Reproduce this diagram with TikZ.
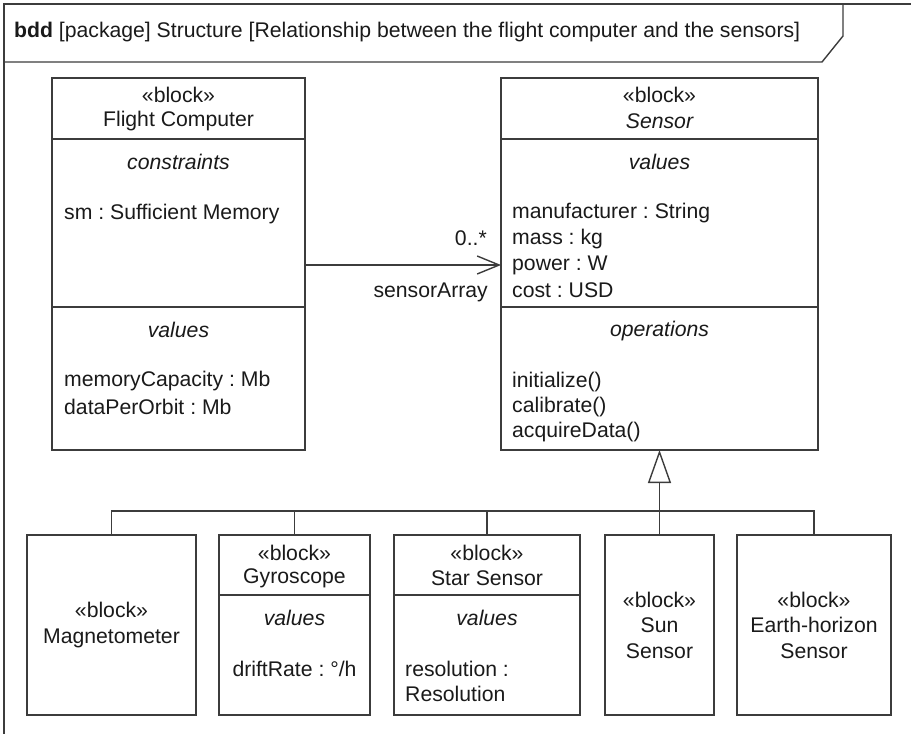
\documentclass[tikz,border=0pt]{standalone}
\usepackage{fontspec}
\setmainfont{Liberation Sans}
\usetikzlibrary{arrows.meta}
\definecolor{ln}{HTML}{3C3C3C}
\definecolor{tx}{HTML}{1A1A1A}
\frenchspacing
\begin{document}
\begin{tikzpicture}[x=1pt,y=-1pt,
  blk/.style={draw=ln,line width=1.4pt,fill=white,inner sep=0pt,outer sep=0pt,anchor=north west},
  lbl/.style={inner sep=0pt,text=tx,font=\fontsize{21.2}{25.5}\selectfont\frenchspacing},
  lft/.style={lbl,anchor=west},
  rgt/.style={lbl,anchor=east},
  ln/.style={draw=ln,line width=1.4pt}]
\useasboundingbox (0,0) rectangle (911,734);
% frame
\draw[ln] (4,734) -- (4,4) -- (911,4);
\draw[ln] (4,62) -- (822,62) -- (843,36) -- (843,4);
\node[lft] (title) at (14,32) {\textbf{bdd} [package] Structure [Relationship between the flight computer and the sensors]};

% Flight Computer
\node[blk,minimum width=253pt,minimum height=372pt] (fc) at (52,78) {};
\draw[ln] (fc.west |- 0,139) -- (fc.east |- 0,139);
\draw[ln] (fc.west |- 0,307) -- (fc.east |- 0,307);
\node[lbl] (fcst) at (178.5,95) {«block»};
\node[lbl] (fcnm) at (178.5,121) {Flight Computer};
\node[lbl] (fccs) at (178.5,162) {\itshape constraints};
\node[lft] (fcsm) at (64,214) {sm : Sufficient Memory};
\node[lbl] (fcvl) at (178.5,330) {\itshape values};
\node[lft] (fcmc) at (64,381) {memoryCapacity : Mb};
\node[lft] (fcdp) at (64,407) {dataPerOrbit : Mb};

% Sensor
\node[blk,minimum width=317pt,minimum height=372pt] (sensor) at (501,78) {};
\draw[ln] (sensor.west |- 0,139) -- (sensor.east |- 0,139);
\draw[ln] (sensor.west |- 0,307) -- (sensor.east |- 0,307);
\node[lbl] (snst) at (659.5,95) {«block»};
\node[lbl] (snnm) at (659.5,121) {\itshape Sensor};
\node[lbl] (snvl) at (659.5,162) {\itshape values};
\node[lft] (snma) at (512,213) {manufacturer : String};
\node[lft] (snms) at (512,239) {mass : kg};
\node[lft] (snpw) at (512,265) {power : W};
\node[lft] (snco) at (512,290) {cost : USD};
\node[lbl] (snop) at (659.5,331) {\itshape operations};
\node[lft] (snin) at (512,382) {initialize()};
\node[lft] (snca) at (512,407) {calibrate()};
\node[lft] (snaq) at (512,432) {acquireData()};

% association
\coordinate (assocA) at (305,265);
\draw[ln,-{Straight Barb[length=22pt,width=18pt,line width=1.4pt]}] (assocA) -- (sensor.west |- assocA);
\node[rgt] (mult) at (487,238) {0..*};
\node[rgt] (role) at (488,292) {sensorArray};

% sub blocks
\node[blk,minimum width=169pt,minimum height=180pt] (mag) at (27,535) {};
\node[lbl,align=center] (magt) at (111.5,625) {«block»\\Magnetometer};

\node[blk,minimum width=151pt,minimum height=180pt] (gyro) at (219,535) {};
\draw[ln] (gyro.west |- 0,595) -- (gyro.east |- 0,595);
\node[lbl] (gyst) at (294.5,553) {«block»};
\node[lbl] (gynm) at (294.5,578) {Gyroscope};
\node[lbl] (gyvl) at (294.5,618) {\itshape values};
\node[lbl] (gydr) at (294.5,669) {driftRate : °/h};

\node[blk,minimum width=186pt,minimum height=180pt] (star) at (394,535) {};
\draw[ln] (star.west |- 0,595) -- (star.east |- 0,595);
\node[lbl] (stst) at (487,553) {«block»};
\node[lbl] (stnm) at (487,578) {Star Sensor};
\node[lbl] (stvl) at (487,618) {\itshape values};
\node[lft] (stre) at (405,669) {resolution :};
\node[lft] (strs) at (405,694) {Resolution};

\node[blk,minimum width=109pt,minimum height=180pt] (sun) at (605,535) {};
\node[lbl,align=center] (sunt) at (659.5,625) {«block»\\Sun\\Sensor};

\node[blk,minimum width=154pt,minimum height=180pt] (earth) at (737,535) {};
\node[lbl,align=center] (eartht) at (814,625) {«block»\\Earth-horizon\\Sensor};

% generalization
\coordinate (bus) at (0,511);
\draw[ln] (mag.north) -- (mag.north |- bus) -- (earth.north |- bus) -- (earth.north);
\draw[ln] (gyro.north) -- (gyro.north |- bus);
\draw[ln] (star.north) -- (star.north |- bus);
\draw[ln,-{Triangle[open,length=33pt,width=23pt,line width=1.4pt]}] (sun.north) -- (sensor.south -| sun.north);
\end{tikzpicture}
\end{document}
